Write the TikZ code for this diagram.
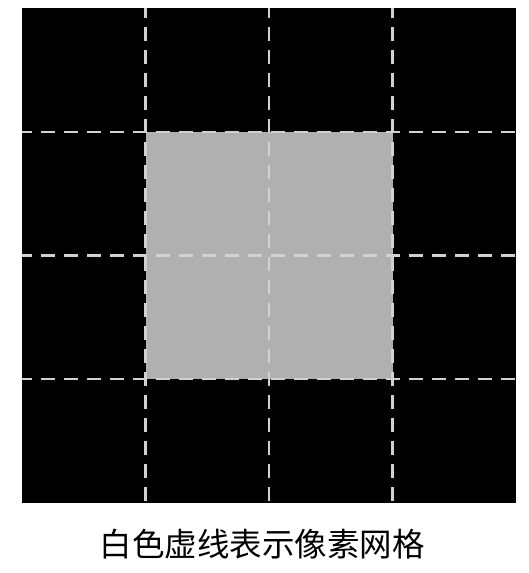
\documentclass[tikz,border=0pt]{standalone}
\usepackage{fontspec}
\newfontfamily\cjk{Noto Sans CJK SC}
\tikzset{
  gridline/.style={draw=white!82!black, line width=2.2pt, dash pattern=on 14pt off 9pt, dash phase=4pt},
  cell/.style={fill=black}
}
\begin{document}
\begin{tikzpicture}[x=1pt,y=-1pt]
\useasboundingbox (0,0) rectangle (528,573);
\fill[white] (0,0) rectangle (528,573);
\fill[black] (22,8) rectangle (516,503);
\fill[white!69!black] (145.5,131.75) rectangle (392.5,379.25);
\foreach \x in {145.5,269,392.5} {
  \draw[gridline] (\x,8) -- (\x,503);
}
\foreach \y in {131.75,255.5,379.25} {
  \draw[gridline] (22,\y) -- (516,\y);
}
\node[font=\cjk\fontsize{32.5}{32.5}\selectfont, inner sep=0pt] (cap) at (262,544) {白色虚线表示像素网格};
\end{tikzpicture}
\end{document}
